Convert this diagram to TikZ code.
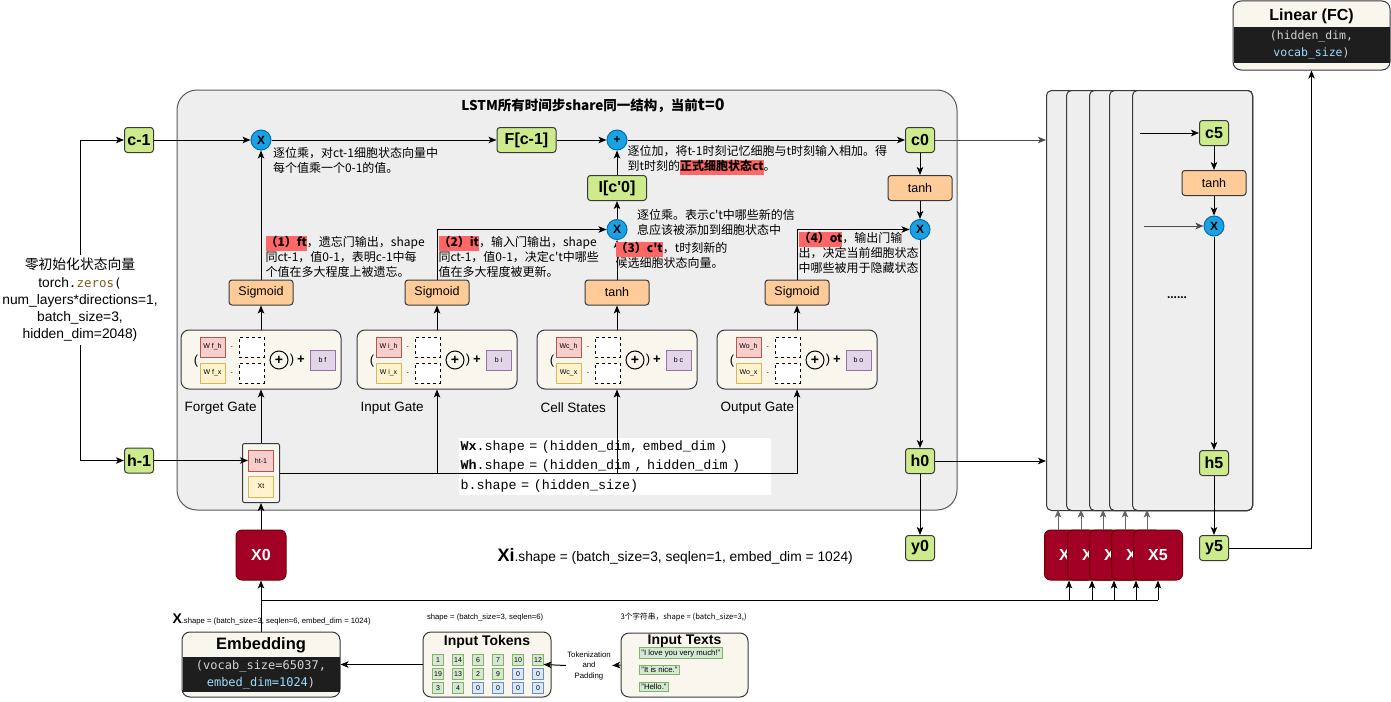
\documentclass[tikz,border=0pt]{standalone}
\usepackage{fontspec}
\setmainfont{Liberation Sans}
\newfontfamily\cjk{Noto Sans CJK SC}
\newfontfamily\code{DejaVu Sans Mono}
\newfontfamily\cour{Liberation Mono}
\usepackage{xcolor}
\usetikzlibrary{shapes,arrows.meta}
\usetikzlibrary{positioning}

\definecolor{cellgreen}{HTML}{CDEB8B}
\definecolor{actorange}{HTML}{FFCC99}
\definecolor{opblue}{HTML}{1BA1E2}
\definecolor{opline}{HTML}{006EAF}
\definecolor{xred}{HTML}{A20025}
\definecolor{xline}{HTML}{6F0000}
\definecolor{cream}{HTML}{F9F7ED}
\definecolor{boxline}{HTML}{36393D}
\definecolor{panelgray}{HTML}{EEEEEE}
\definecolor{hlred}{HTML}{FF6666}
\definecolor{wred}{HTML}{F8CECC}
\definecolor{wredline}{HTML}{B85450}
\definecolor{wyel}{HTML}{FFF2CC}
\definecolor{wyelline}{HTML}{D6B656}
\definecolor{wpur}{HTML}{E1D5E7}
\definecolor{wpurline}{HTML}{9673A6}
\definecolor{tokg}{HTML}{D5E8D4}
\definecolor{tokgline}{HTML}{82B366}
\definecolor{tokb}{HTML}{DAE8FC}
\definecolor{tokbline}{HTML}{6C8EBF}
\definecolor{codebg}{HTML}{1E1E1E}
\definecolor{codegray}{HTML}{D4D4D4}
\definecolor{codeblue}{HTML}{9CDCFE}
\definecolor{zerobrown}{HTML}{795E26}

\newcommand{\hl}[1]{{\setlength{\fboxsep}{0pt}\colorbox{hlred}{\strut\bfseries #1}}}

\begin{document}
\begin{tikzpicture}[x=1pt,y=-1pt,line width=1pt,>={Stealth[length=8pt,width=6.5pt,inset=2pt]},
  cellnode/.style={draw=boxline,fill=cellgreen,rounded corners=3pt,minimum width=29,minimum height=25,inner sep=1pt,font=\bfseries\fontsize{16}{16}\selectfont},
  act/.style={draw=boxline,fill=actorange,rounded corners=3pt,minimum width=64,minimum height=25,inner sep=1pt,font=\fontsize{12.5}{12.5}\selectfont},
  op/.style={circle,draw=opline,fill=opblue,minimum size=20,inner sep=0pt,font=\bfseries\fontsize{12}{12}\selectfont},
  gatebox/.style={draw=boxline,fill=cream,rounded corners=8pt,minimum width=160,minimum height=59,inner sep=0pt},
  wbox/.style={minimum width=25,minimum height=20,inner sep=0pt,font=\fontsize{7}{7}\selectfont},
  whid/.style={wbox,draw=wredline,fill=wred},
  winp/.style={wbox,draw=wyelline,fill=wyel},
  wbias/.style={wbox,draw=wpurline,fill=wpur},
  slot/.style={wbox,draw=black,dashed,fill=white},
  xin/.style={draw=xline,fill=xred,rounded corners=6pt,minimum width=50,minimum height=50,text=white,font=\bfseries\fontsize{16}{16}\selectfont},
  note/.style={anchor=north west,align=left,inner sep=0pt,font=\cjk\fontsize{12}{15}\selectfont},
  tokcell/.style={minimum width=11,minimum height=10.5,inner sep=0pt,line width=0.8pt,font=\fontsize{7}{7}\selectfont},
  tokused/.style={tokcell,draw=tokgline,fill=tokg},
  tokpad/.style={tokcell,draw=tokbline,fill=tokb},
  textitem/.style={anchor=west,draw=tokgline,fill=tokg,line width=0.8pt,inner xsep=2pt,inner ysep=1.5pt,font=\fontsize{7.8}{7.8}\selectfont},
  small/.style={anchor=west,inner sep=0pt,font=\fontsize{7.7}{7.7}\selectfont}]

  \useasboundingbox (0,0) rectangle (1391,701);

  % main lstm box
  \draw[draw=black!65,fill=panelgray,rounded corners=20pt] (177,90) rectangle (957,510);
  \node[font=\cjk\bfseries\fontsize{13.5}{13.5}\selectfont] (title) at (593,106)
    {LSTM所有时间步share同一结构，当前{\fontsize{16}{16}\selectfont t=0}};

  % later time steps
  \foreach \i/\pl in {1/1046,2/1066,3/1089,4/1109,5/1132}{
    \node[draw=boxline,fill=panelgray,rounded corners=5pt,anchor=north west,
      minimum width={1252-\pl},minimum height=420,inner sep=0pt] (p\i) at (\pl,90) {};
  }

  % initial states
  \node[align=center,font=\fontsize{13.8}{17.2}\selectfont] (zinit) at (80,300)
    {{\cjk 零初始化状态向量}\\torch{\code\fontsize{12.5}{17}\selectfont .\textcolor{zerobrown}{zeros}(}\\num\_layers*directions=1,\\batch\_size=3,\\hidden\_dim=2048)};
  \node[cellnode] (cm1) at (139,140) {c-1};
  \node[cellnode] (hm1) at (139,460.5) {h-1};
  \draw[->] (zinit.north) |- (cm1.west);
  \draw[->] (zinit.south) |- (hm1.west);

  % cell state path
  \node[op] (mulf) at (261,140) {X};
  \node[cellnode,minimum width=59] (fcm) at (526.5,140) {F[c-1]};
  \node[op] (addc) at (617,140) {+};
  \node[cellnode] (c0) at (920,140) {c0};
  \node[act] (tanhc) at (920,188) {tanh};
  \node[op] (mulo) at (920,229.5) {X};
  \node[cellnode] (h0) at (920,461) {h0};
  \node[cellnode] (y0) at (920,548) {y0};
  \node[cellnode,minimum width=59] (icp) at (617,188) {I[c\textquotesingle0]};
  \node[op] (muli) at (617,229.5) {X};

  % gates
  \foreach \gx/\gn/\ga/\gl/\gh/\gw/\gb in {261/f/Sigmoid/Forget Gate/W f\_h/W f\_x/b f,
      437/i/Sigmoid/Input Gate/W i\_h/W i\_x/b i,617/c/tanh/Cell States/Wc\_h/Wc\_x/b c,
      797/o/Sigmoid/Output Gate/Wo\_h/Wo\_x/b o}{
    \node[gatebox] (g\gn) at (\gx,359.5) {};
    \node[act] (a\gn) at (\gx,292.5) {\ga};
    \node[anchor=west,inner sep=0pt,font=\fontsize{13.5}{13.5}\selectfont] (l\gn) at (\gx-77,408) {\gl};
    \node[font=\fontsize{13}{13}\selectfont] (lp\gn) at (\gx-65,361) {(};
    \node[whid] (wh\gn) at (\gx-48.5,347) {\gh};
    \node[winp] (wx\gn) at (\gx-48.5,373) {\gw};
    \node (th\gn) at (\gx-29,347) {$\cdot$};
    \node (tx\gn) at (\gx-29,373) {$\cdot$};
    \node[slot] (sh\gn) at (\gx-9.5,347) {};
    \node[slot] (sx\gn) at (\gx-9.5,373) {};
    \node[circle,draw=black,minimum size=18,inner sep=0pt,font=\bfseries\fontsize{14}{14}\selectfont] (pc\gn) at (\gx+18,360) {+};
    \node[font=\fontsize{13}{13}\selectfont] (rp\gn) at (\gx+31,360) {)};
    \node[font=\bfseries\fontsize{13}{13}\selectfont] (pp\gn) at (\gx+40,359.5) {+};
    \node[wbias] (b\gn) at (\gx+61.5,360) {\gb};
    \draw[->] (g\gn) -- (a\gn);
  }

  % input of step t
  \node[gatebox,minimum width=37,minimum height=59,rounded corners=2pt] (inp) at (261,473) {};
  \node[whid,minimum height=21] (ht) at (261,460.5) {ht-1};
  \node[winp,minimum height=21] (xt) at (261,486.5) {Xt};
  \node[xin] (x0) at (261,555) {X0};

  \node[fill=white,anchor=north west,align=left,inner xsep=2pt,inner ysep=3pt,text width=308pt,
    font=\cour\fontsize{13.4}{19.5}\selectfont] (wshape) at (458,437)
    {\textbf{Wx}.shape = (hidden\_dim, embed\_dim )\\\textbf{Wh}.shape = (hidden\_dim , hidden\_dim )\\b.shape = (hidden\_size)};
  \node[anchor=west,inner sep=0pt,font=\fontsize{13.8}{13.8}\selectfont] (xishape) at (497,556)
    {{\bfseries\fontsize{18}{18}\selectfont Xi}.shape = (batch\_size=3, seqlen=1, embed\_dim = 1024)};

  % wires
  \draw[->] (cm1) -- (mulf);
  \draw[->] (mulf) -- (fcm);
  \draw[->] (fcm) -- (addc);
  \draw[->] (addc) -- (c0);
  \draw[->] (muli) -- (icp);
  \draw[->] (icp) -- (addc);
  \draw[->] (c0) -- (tanhc);
  \draw[->] (tanhc) -- (mulo);
  \draw[->] (mulo) -- (h0);
  \draw[->] (h0) -- (y0);
  \draw[->,black!70] (c0) -- (c0 -| p1.west);
  \draw[->] (h0) -- (h0 -| p1.west);
  \draw[->] (af) -- (mulf);
  \draw[->] (ai.north) |- (muli.west);
  \draw[->] (ac) -- (muli);
  \draw[->] (ao.north) |- (mulo.west);
  \draw[->] (hm1) -- (ht);
  \draw[->] (inp) -- (gf);
  \draw[->] (inp.east) -| (go.south);
  \draw[->] (gi.south |- inp.east) -- (gi.south);
  \draw[->] (gc.south |- inp.east) -- (gc.south);
  \draw[->] (x0) -- (inp);

  % notes
  \node[note] (nmulf) at (272.5,147) {逐位乘，对ct-1细胞状态向量中\\每个值乘一个0-1的值。};
  \node[note] (nadd) at (627,145) {逐位加，将t-1时刻记忆细胞与t时刻输入相加。得\\到t时刻的\hl{正式细胞状态ct}。};
  \node[note] (nmuli) at (636.5,209) {逐位乘。表示c\textquotesingle t中哪些新的信\\息应该被添加到细胞状态中};
  \node[note] (nft) at (265,235.5) {\hl{（1）ft}，遗忘门输出，shape\\同ct-1，值0-1，表明c-1中每\\个值在多大程度上被遗忘。};
  \node[note] (nit) at (438,235.5) {\hl{（2）it}，输入门输出，shape\\同ct-1，值0-1，决定c\textquotesingle t中哪些\\值在多大程度被更新。};
  \node[note] (nct) at (615,241.5) {\hl{（3）c\textquotesingle t}，t时刻新的\\候选细胞状态向量。};
  \node[note] (nout) at (798,231) {\hl{（4）ot}，输出门输\\出，决定当前细胞状态\\中哪些被用于隐藏状态};

  % inputs x1..x5
  \coordinate (bus) at (261,600);
  \draw (bus) -- (1157.5,600);
  \foreach \i/\xl in {1/1044,2/1067,3/1089,4/1111,5/1133}{
    \node[xin,minimum width=49,anchor=west] (x\i) at (\xl,555) {X\i};
    \draw[->,black!60] (x\i.north) ++(-11,0) -- ++(0,-20);
    \draw[->] (x\i.south |- bus) -- (x\i.south);
  }

  % last step
  \coordinate (c5in) at (1140,133);
  \node[cellnode] (c5) at (1214,133) {c5};
  \node[act] (tanh5) at (1214,183) {tanh};
  \node[op] (mul5) at (1214,226) {X};
  \coordinate (m5in) at (1144,226);
  \node[font=\bfseries\fontsize{12}{12}\selectfont] (dots5) at (1177,298) {......};
  \node[cellnode] (h5) at (1214,463) {h5};
  \node[cellnode] (y5) at (1214,548) {y5};
  \draw[->] (c5in) -- (c5);
  \draw[->] (c5) -- (tanh5);
  \draw[->] (tanh5) -- (mul5);
  \draw[->,black!70] (m5in) -- (mul5);
  \draw[->] (mul5) -- (h5);
  \draw[->] (h5) -- (y5);

  % linear layer
  \node[gatebox,minimum width=157,minimum height=69] (lin) at (1311.5,35.5) {};
  \fill[codebg] (1233.5,27) rectangle (1389.5,63);
  \node[font=\bfseries\fontsize{16}{16}\selectfont] (lint) at (1311.5,16) {Linear (FC)};
  \node[align=center,text=codegray,font=\code\fontsize{11.5}{17}\selectfont] (linc) at (1311.5,45)
    {(hidden\_dim,\\\textcolor{codeblue}{vocab\_size})};
  \draw[->] (y5.east) -| (lin.south);

  % embedding
  \node[gatebox,minimum width=158,minimum height=65] (emb) at (261,664.5) {};
  \fill[codebg] (182.5,657) rectangle (339.5,692);
  \node[font=\bfseries\fontsize{16.5}{16.5}\selectfont] (embt) at (261,645) {Embedding};
  \node[align=center,text=codegray,font=\code\fontsize{12}{17}\selectfont] (embc) at (261,675)
    {(vocab\_size=65037,\\\textcolor{codeblue}{embed\_dim=1024})};
  \draw[->] (emb) -- (x0);
  \node[small] (xshape) at (172,619) {{\bfseries\fontsize{14}{14}\selectfont X}.shape = (batch\_size=3, seqlen=6, embed\_dim = 1024)};

  % input tokens
  \node[gatebox,minimum width=128,minimum height=65] (tokens) at (487,664.5) {};
  \node[font=\bfseries\fontsize{14}{14}\selectfont] (tokt) at (487,642) {Input Tokens};
  \foreach \v/\s [count=\c] in {1/tokused,14/tokused,6/tokused,7/tokused,10/tokused,12/tokused}
    \node[\s] (ta\c) at ({418+20*\c},660) {\v};
  \foreach \v/\s [count=\c] in {19/tokused,13/tokused,2/tokused,9/tokused,0/tokpad,0/tokpad}
    \node[\s] (tb\c) at ({418+20*\c},674) {\v};
  \foreach \v/\s [count=\c] in {3/tokused,4/tokused,0/tokpad,0/tokpad,0/tokpad,0/tokpad}
    \node[\s] (tc\c) at ({418+20*\c},688) {\v};
  \node[small] (tshape) at (426.5,618) {shape = (batch\_size=3, seqlen=6)};
  \draw[->] (tokens.west) -- (tokens.west -| emb.east);

  % input texts
  \node[gatebox,minimum width=127,minimum height=64] (txts) at (684.5,665) {};
  \node[font=\bfseries\fontsize{14}{14}\selectfont] (txtt) at (684.5,641) {Input Texts};
  \node[textitem] (s1) at (639,653) {"I love you very much!"};
  \node[textitem] (s2) at (639,670) {"It is nice."};
  \node[textitem] (s3) at (639,687) {"Hello."};
  \node[small,font=\cjk\fontsize{7.7}{7.7}\selectfont] (sshape) at (620,617) {3个字符串，shape = (batch\_size=3,)};
  \node[fill=white,align=center,inner sep=1pt,font=\fontsize{7.8}{10.5}\selectfont] (tokl) at (589,665.5) {Tokenization\\and\\Padding};
  \draw[->] (txts.west) -- (tokl.east);
  \draw[->] (tokl.west) -- ([xshift=-8pt]tokens.east);

\end{tikzpicture}
\end{document}
